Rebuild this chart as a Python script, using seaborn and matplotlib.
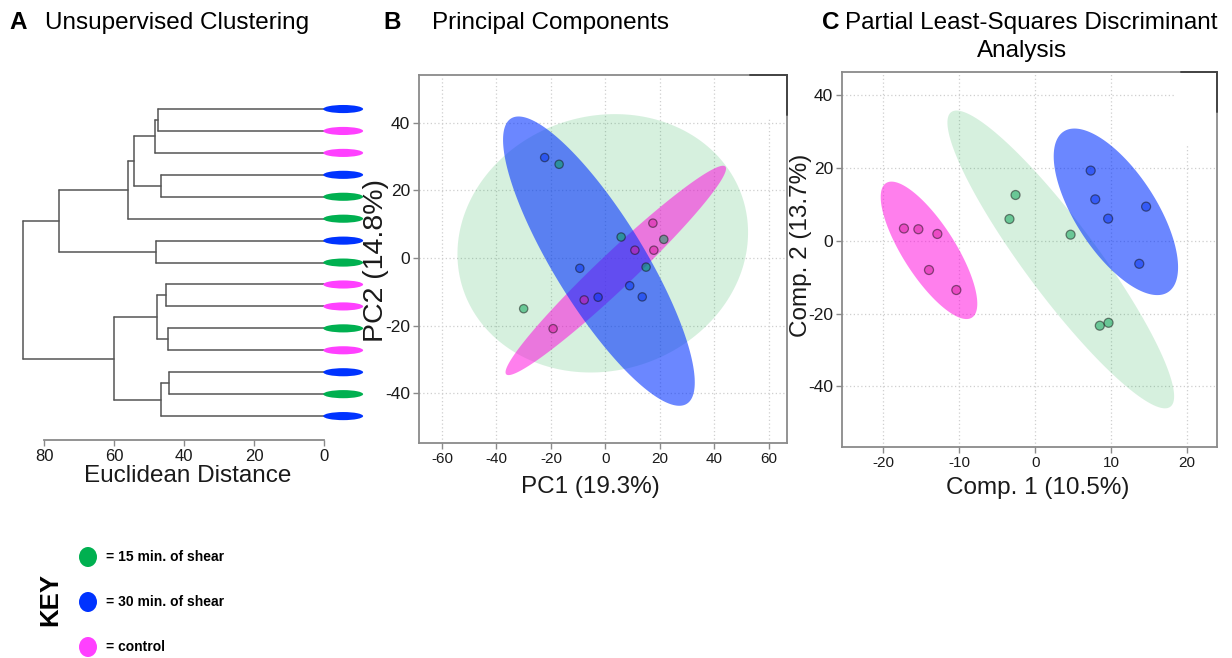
import numpy as np
import pandas as pd
import matplotlib
matplotlib.use("Agg")
import matplotlib.pyplot as plt
from matplotlib.patches import Ellipse, Rectangle
import seaborn as sns

# ---------------- data ----------------
group_names = {"g15": "15 min. of shear", "g30": "30 min. of shear", "ctrl": "control"}
key_order = ["g15", "g30", "ctrl"]

# dendrogram: leaves top -> bottom, merges (left node, right node, height)
leaf_groups = ["g30", "ctrl", "ctrl", "g30", "g15", "g15", "g30", "g15",
               "ctrl", "ctrl", "g15", "ctrl", "g30", "g15", "g30"]
merge_left = [0, 15, 3, 16, 18, 6, 19, 8, 10, 22, 12, 25, 24, 21]
merge_right = [1, 2, 4, 17, 5, 7, 20, 9, 11, 23, 13, 14, 26, 27]
merge_height = [47.4, 48.3, 46.5, 54.3, 56.1, 48.2, 75.7, 45.2, 44.7, 47.7,
                44.2, 46.7, 60.2, 86.0]
dist_ticks = [0, 20, 40, 60, 80]

# PCA scores
pca_group = ["g30", "g15", "g15", "g15", "g30", "g30", "g30", "ctrl",
             "g30", "ctrl", "ctrl", "g15", "ctrl", "ctrl", "g15"]
pc1 = [-22.3, -17.0, 5.75, 14.9, -9.4, 8.9, 13.5, -7.8, -2.7, 10.8, 17.4,
       21.4, 17.75, -19.2, -30.0]
pc2 = [29.7, 27.7, 6.2, -2.7, -3.05, -8.2, -11.5, -12.4, -11.6, 2.3, 10.3,
       5.5, 2.3, -20.9, -15.0]

# PLS-DA scores
pls_group = ["ctrl"] * 5 + ["g15"] * 5 + ["g30"] * 5
comp1 = [-17.3, -15.4, -12.9, -14.0, -10.4, -2.6, -3.4, 4.65, 8.5, 9.65,
         7.3, 7.9, 9.6, 14.6, 13.7]
comp2 = [3.4, 3.2, 1.9, -8.0, -13.5, 12.6, 6.0, 1.7, -23.3, -22.5,
         19.3, 11.4, 6.1, 9.4, -6.3]

# ---------------- styles ----------------
key_colors = {"g15": "#00b050", "g30": "#0033ff", "ctrl": "#ff40ff"}
ell_colors = {"g15": "#10a840", "g30": "#0030ff", "ctrl": "#ff00dd"}
ell_alpha = {"g15": 0.17, "g30": 0.58, "ctrl": 0.50}
ell_z = {"g15": 1, "ctrl": 2, "g30": 3}
pt_colors = {"g15": "#00a050", "g30": "#0030f0", "ctrl": "#d8189e"}

sns.set_theme(style="white")
plt.rcParams["font.family"] = ["Liberation Sans", "DejaVu Sans"]
plt.rcParams["axes.unicode_minus"] = False

W, H = 1232, 658
fig = plt.figure(figsize=(W / 100, H / 100), dpi=100)


def px_rect(l, t, r, b):
    return [l / W, 1 - b / H, (r - l) / W, (b - t) / H]


SPINE = "#8a8a8a"
TXT = "#1a1a1a"


def conf_ellipse(x, y, chi2=5.991, n=240):
    x = np.asarray(x, float)
    y = np.asarray(y, float)
    cov = np.cov(x, y)
    vals, vecs = np.linalg.eigh(cov)
    t = np.linspace(0, 2 * np.pi, n)
    circ = np.vstack([np.cos(t), np.sin(t)])
    pts = vecs @ (np.sqrt(vals * chi2)[:, None] * circ)
    return pts[0] + x.mean(), pts[1] + y.mean()


def score_panel(ax, df, xcol, ycol, size):
    for g in ["g15", "ctrl", "g30"]:
        sub = df[df["key"] == g]
        ex, ey = conf_ellipse(sub[xcol], sub[ycol])
        ax.fill(ex, ey, color=ell_colors[g], alpha=ell_alpha[g], lw=0,
                zorder=ell_z[g])
    sns.scatterplot(data=df, x=xcol, y=ycol, hue="key",
                    palette=pt_colors, s=size, alpha=0.5,
                    edgecolor="#111111", linewidth=0.9, legend=False,
                    ax=ax, zorder=5)
    ax.grid(True, linestyle=(0, (1, 2)), color="#cfcfcf", lw=0.9)
    ax.set_axisbelow(True)
    for s in ax.spines.values():
        s.set_color(SPINE)
        s.set_linewidth(1.3)
        s.set_visible(True)
    ax.tick_params(axis="both", which="both", direction="out", length=4.3,
                   width=1.0, color=SPINE, labelcolor=TXT, pad=2,
                   bottom=True, left=True)


# ---------------- Panel A: dendrogram ----------------
axA = fig.add_axes(px_rect(15, 95, 368, 440))
n_leaf = len(leaf_groups)
node_y = {i: float(i) for i in range(n_leaf)}
node_h = {i: 0.0 for i in range(n_leaf)}
for k, (a, b, h) in enumerate(zip(merge_left, merge_right, merge_height)):
    nid = n_leaf + k
    ya, yb = node_y[a], node_y[b]
    axA.plot([node_h[a], h], [ya, ya], color="#555555", lw=1.1)
    axA.plot([node_h[b], h], [yb, yb], color="#555555", lw=1.1)
    axA.plot([h, h], [ya, yb], color="#555555", lw=1.1)
    node_y[nid] = (ya + yb) / 2
    node_h[nid] = h
for i, g in enumerate(leaf_groups):
    axA.add_patch(Ellipse((-5.5, i), width=11.4, height=0.37,
                          color=key_colors[g], lw=0, zorder=4))
axA.set_xlim(88.4, -12.6)
axA.set_ylim(15.09, -0.64)
axA.set_yticks([])
axA.set_xticks(dist_ticks)
for s in ["left", "top", "right"]:
    axA.spines[s].set_visible(False)
axA.spines["bottom"].set_bounds(0, 80)
axA.spines["bottom"].set_color(SPINE)
axA.spines["bottom"].set_linewidth(1.3)
axA.tick_params(axis="x", direction="out", length=4.3, width=1.0,
                color=SPINE, labelcolor=TXT, labelsize=12, pad=2, bottom=True)
axA.set_xlabel("Euclidean Distance", fontsize=17.5, color=TXT, va="center")
axA.xaxis.set_label_coords((188 - 15) / 353, (440 - 476) / 345)
axA.set_facecolor("none")

# ---------------- Panel B: PCA ----------------
axB = fig.add_axes(px_rect(419, 75, 787, 443))
dfB = pd.DataFrame({"PC1": pc1, "PC2": pc2, "key": pca_group})
score_panel(axB, dfB, "PC1", "PC2", 36)
axB.set_xlim(-68.4, 66.6)
axB.set_ylim(-54.7, 54.1)
axB.set_xticks([-60, -40, -20, 0, 20, 40, 60])
axB.set_yticks([-40, -20, 0, 20, 40])
axB.tick_params(axis="x", labelsize=11)
axB.tick_params(axis="y", labelsize=12.5)
axB.set_xlabel("PC1 (19.3%)", fontsize=17.5, color=TXT, va="center")
axB.xaxis.set_label_coords((590 - 419) / 368, (443 - 487) / 368)
axB.set_ylabel("PC2 (14.8%)", fontsize=20.5, color=TXT, va="center")
axB.yaxis.set_label_coords((376 - 419) / 368, (443 - 260) / 368)
axB.add_patch(Rectangle((0.935, 0.88), 0.07, 0.125, transform=axB.transAxes,
                        color="white", lw=0, zorder=0.6))
axB.plot([0.9, 1.0], [1.0, 1.0], transform=axB.transAxes, color="#444444",
         lw=1.4, clip_on=False, zorder=10)
axB.plot([1.0, 1.0], [0.89, 1.0], transform=axB.transAxes, color="#444444",
         lw=1.4, clip_on=False, zorder=10)

# ---------------- Panel C: PLS-DA ----------------
axC = fig.add_axes(px_rect(841.7, 72.3, 1216.7, 447.3))
dfC = pd.DataFrame({"Comp1": comp1, "Comp2": comp2, "key": pls_group})
score_panel(axC, dfC, "Comp1", "Comp2", 42)
axC.set_xlim(-25.5, 23.9)
axC.set_ylim(-56.7, 46.3)
axC.set_xticks([-20, -10, 0, 10, 20])
axC.set_yticks([-40, -20, 0, 20, 40])
axC.tick_params(axis="x", labelsize=11)
axC.tick_params(axis="y", labelsize=12.5)
axC.set_xlabel("Comp. 1 (10.5%)", fontsize=17.5, color=TXT, va="center")
axC.xaxis.set_label_coords((1038 - 841.7) / 375, (447.3 - 488) / 375)
axC.set_ylabel("Comp. 2 (13.7%)", fontsize=17.5, color=TXT, va="center")
axC.yaxis.set_label_coords((801 - 841.7) / 375, (447.3 - 245) / 375)
axC.add_patch(Rectangle((0.89, 0.81), 0.12, 0.2, transform=axC.transAxes,
                        color="white", lw=0, zorder=0.6))
axC.plot([0.905, 1.0], [1.0, 1.0], transform=axC.transAxes, color="#444444",
         lw=1.4, clip_on=False, zorder=10)
axC.plot([1.0, 1.0], [0.895, 1.0], transform=axC.transAxes, color="#444444",
         lw=1.4, clip_on=False, zorder=10)

# ---------------- titles ----------------
def ftext(x, y, s, **kw):
    fig.text(x / W, 1 - y / H, s, color="black", **kw)


ftext(9, 29, "A", fontsize=17.5, fontweight="bold", va="baseline")
ftext(45, 29, "Unsupervised Clustering", fontsize=17.5, va="baseline")
ftext(383, 29, "B", fontsize=17.5, fontweight="bold", va="baseline")
ftext(432, 29, "Principal Components", fontsize=17.5, va="baseline")
ftext(822, 29, "C", fontsize=17.5, fontweight="bold", va="baseline")
ftext(845, 29, "Partial Least-Squares Discriminant", fontsize=17.5,
      va="baseline")
ftext(1022, 57, "Analysis", fontsize=17.5, va="baseline", ha="center")

# ---------------- key ----------------
axK = fig.add_axes([0, 0, 1, 1], zorder=-1)
axK.set_xlim(0, W)
axK.set_ylim(H, 0)
axK.axis("off")
key_y = [557, 602, 647]
for g, yy in zip(key_order, key_y):
    axK.add_patch(Ellipse((88, yy), width=18, height=20,
                          color=key_colors[g], lw=0))
    axK.text(106, yy, "= " + group_names[g], fontsize=10, fontweight="bold",
             va="center", ha="left", color="black")
axK.text(50, 599, "KEY", fontsize=18.5, fontweight="bold", rotation=90,
         va="center", ha="center", color="black")

fig.savefig("out.png", dpi=100)
